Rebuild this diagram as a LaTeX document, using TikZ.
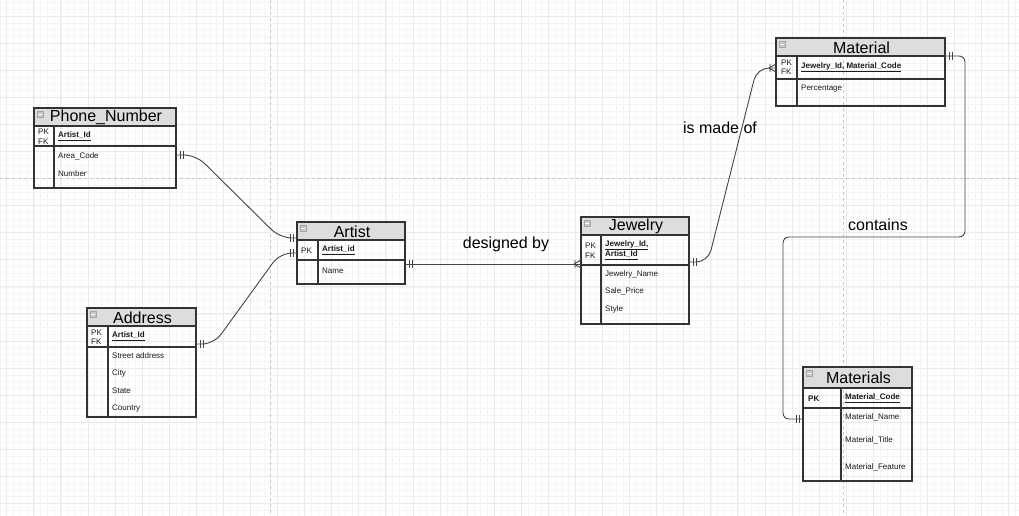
\documentclass[tikz,border=0pt]{standalone}
\usepackage{fontspec}
\setmainfont{Liberation Sans}
\usetikzlibrary{calc}
\definecolor{gridminor}{HTML}{F5F5F5}
\definecolor{gridmajor}{HTML}{EAEAEA}
\definecolor{pagebrk}{HTML}{C8C8C8}
\definecolor{hdr}{HTML}{DDDDDD}
\definecolor{border}{HTML}{333333}
\definecolor{connc}{HTML}{444444}
\definecolor{iconf}{HTML}{C4C8D0}
\definecolor{txt}{HTML}{1A1A1A}
\tikzset{
  tblbox/.style={draw=border, line width=1.2pt, inner sep=0pt, outer sep=0pt},
  tblline/.style={draw=border, line width=1.2pt},
  hdrfill/.style={fill=hdr},
  titletext/.style={font=\fontsize{16}{19}\selectfont, text=black, inner sep=0pt},
  celltext/.style={font=\fontsize{8}{10}\selectfont, text=txt, anchor=west, inner sep=0pt},
  conn/.style={draw=connc, line width=0.9pt},
  lbl/.style={font=\fontsize{16}{19}\selectfont, text=black, inner sep=0pt},
  iconbox/.style={fill=iconf, draw=gray!70, line width=0.3pt},
}
\newcommand{\ertable}[9]{%
  \fill[hdrfill] (#2,#3) rectangle (#4,#6);
  \node[tblbox, anchor=north west, minimum width={(#4-#2)*1pt}, minimum height={(#5-#3)*1pt}] (#1) at (#2,#3) {};
  \draw[tblline] (#2,#6) -- (#4,#6) (#2,#7) -- (#4,#7) (#8,#6) -- (#8,#5);
  \node[titletext] (#1-title) at ({(#2+#4)/2+1},{(#3+#6)/2+0.5}) {#9};
  \draw[iconbox] ({#2+3},{#3+3}) rectangle ({#2+9},{#3+9});
  \draw[white, line width=0.4pt] ({#2+4.2},{#3+6}) -- ({#2+7.8},{#3+6});
}
\newcommand{\dbar}[2]{%
  \draw[conn] ($(#1)+({#2*4},-4)$) -- ($(#1)+({#2*4},4)$)
              ($(#1)+({#2*7},-4)$) -- ($(#1)+({#2*7},4)$);
}
\newcommand{\crowfoot}[1]{%
  \draw[conn] ($(#1)+(-7,0)$) -- ($(#1)+(0,-4)$)
              ($(#1)+(-7,0)$) -- ($(#1)+(0,4)$)
              ($(#1)+(-6,-4)$) -- ($(#1)+(-6,4)$);
}
\begin{document}
\begin{tikzpicture}[x=1pt,y=-1pt]
\useasboundingbox (0,0) rectangle (1019,516);
\fill[white] (0,0) rectangle (1019,516);
\begin{scope}
\clip (0,0) rectangle (1019,516);
\foreach \k in {0,...,151} {\draw[gridminor, line width=0.5pt] ({-0.07+\k*6.77},0) -- ({-0.07+\k*6.77},516);}
\foreach \k in {0,...,76} {\draw[gridminor, line width=0.5pt] (0,{2.46+\k*6.77}) -- (1019,{2.46+\k*6.77});}
\foreach \k in {0,...,37} {\draw[gridmajor, line width=0.8pt] ({6.7+\k*27.08},0) -- ({6.7+\k*27.08},516);}
\foreach \k in {0,...,18} {\draw[gridmajor, line width=0.8pt] (0,{16+\k*27.08}) -- (1019,{16+\k*27.08});}
\draw[pagebrk, dashed, line width=0.8pt] (270,0) -- (270,516);
\draw[pagebrk, dashed, line width=0.8pt] (843,0) -- (843,516);
\draw[pagebrk, dashed, line width=0.8pt] (0,178) -- (1019,178);
\end{scope}

% ---------- tables ----------
\ertable{phone}{34}{108}{176}{188}{126}{146}{54}{Phone\_Number}
\node[celltext] at (38,131.5) {PK};
\node[celltext] at (38,141.5) {FK};
\node[celltext] at (58,136.5) {\textbf{\underline{Artist\_Id}}};
\node[celltext] at (58,156) {Area\_Code};
\node[celltext] at (58,174) {Number};

\ertable{artist}{297}{222}{405}{284}{240}{260}{318}{Artist}
\node[celltext] at (301,250.5) {PK};
\node[celltext] at (322,250.5) {\textbf{\underline{Artist\_id}}};
\node[celltext] at (322,270.5) {Name};

\ertable{address}{87}{308}{196}{417}{326}{347}{108}{Address}
\node[celltext] at (91,332.5) {PK};
\node[celltext] at (91,341.5) {FK};
\node[celltext] at (112,336.5) {\textbf{\underline{Artist\_Id}}};
\node[celltext] at (112,355.5) {Street address};
\node[celltext] at (112,373.5) {City};
\node[celltext] at (112,390.5) {State};
\node[celltext] at (112,408.5) {Country};

\ertable{jewelry}{581}{217}{689}{324}{235}{265}{601}{Jewelry}
\node[celltext] at (585,245.5) {PK};
\node[celltext] at (585,255.5) {FK};
\node[celltext] at (605,245.5) {\textbf{\underline{Jewelry\_Id,}}};
\node[celltext] at (605,255.5) {\textbf{\underline{Artist\_Id}}};
\node[celltext] at (605,274.5) {Jewelry\_Name};
\node[celltext] at (605,291.5) {Sale\_Price};
\node[celltext] at (605,309.5) {Style};

\ertable{material}{776}{38}{945}{106}{56}{79}{797}{Material}
\node[celltext] at (781,63) {PK};
\node[celltext] at (781,72) {FK};
\node[celltext] at (801,67.5) {\textbf{\underline{Jewelry\_Id, Material\_Code}}};
\node[celltext] at (801,88.5) {Percentage};

\ertable{materials}{803}{367}{912}{481}{388}{408}{841}{Materials}
\node[celltext] at (808,398.5) {\textbf{PK}};
\node[celltext] at (845,398.5) {\textbf{\underline{Material\_Code}}};
\node[celltext] at (845,417.5) {Material\_Name};
\node[celltext] at (845,440.5) {Material\_Title};
\node[celltext] at (845,467.5) {Material\_Feature};

% ---------- connection points ----------
\coordinate (pr) at (176,155);
\coordinate (al1) at (297,238);
\coordinate (adr) at (196,344);
\coordinate (al2) at (297,253);
\coordinate (ar) at (405,264);
\coordinate (jl) at (581,264);
\coordinate (jr) at (689,262);
\coordinate (ml) at (776,68);
\coordinate (mr) at (945,56);
\coordinate (msl) at (803,419);

% ---------- connectors ----------
\draw[conn, rounded corners=12pt] (pr) -- (196,155) -- (280,238) -- (al1);
\draw[conn, rounded corners=12pt] (adr) -- (214,344) -- (280,253) -- (al2);
\draw[conn] (ar) -- (jl);
\draw[conn, rounded corners=12pt] (jr) -- (708,262) -- (757,68) -- (ml);
\draw[conn, rounded corners=6pt] (mr) -- (965,56) -- (965,237) -- (783,237) -- (783,419) -- (msl);

\dbar{pr}{1}
\dbar{al1}{-1}
\dbar{adr}{1}
\dbar{al2}{-1}
\dbar{ar}{1}
\crowfoot{jl}
\dbar{jr}{1}
\crowfoot{ml}
\dbar{mr}{1}
\dbar{msl}{-1}

% ---------- labels ----------
\node[lbl] (l1) at (506,244) {designed by};
\node[lbl] (l2) at (720,128) {is made of};
\node[lbl] (l3) at (878,225) {contains};
\end{tikzpicture}
\end{document}
